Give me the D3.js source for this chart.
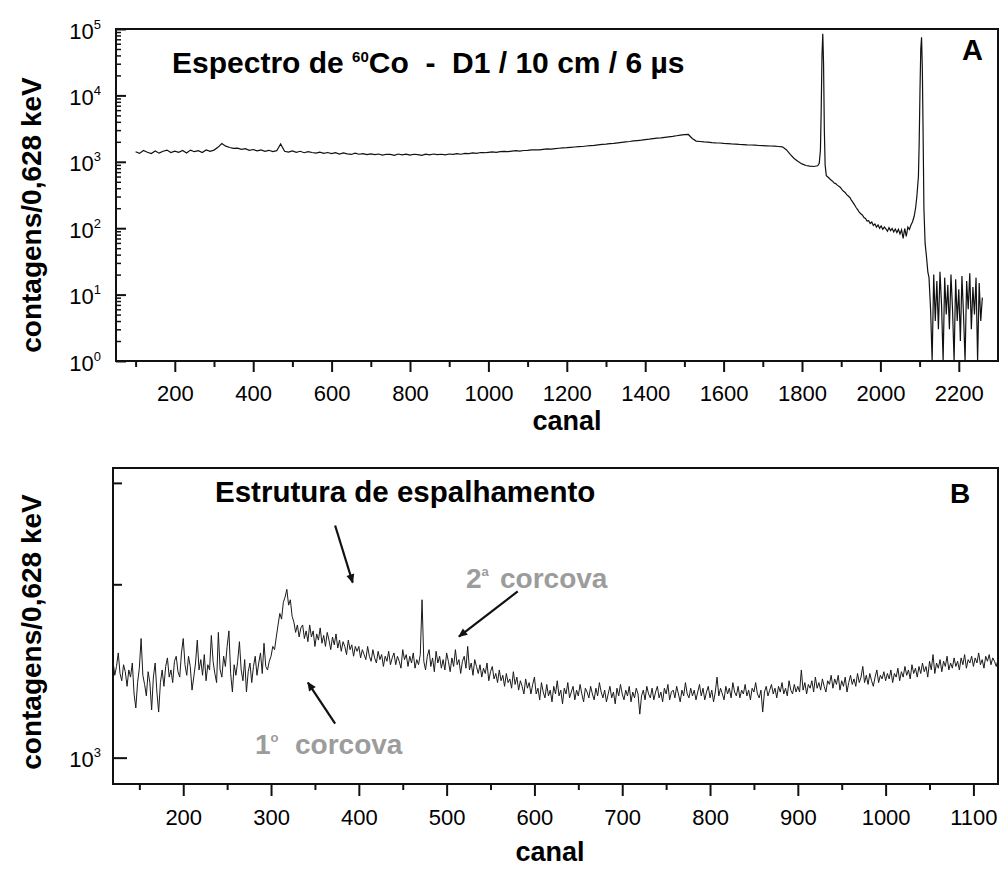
<!DOCTYPE html>
<html>
<head>
<meta charset="utf-8">
<script src="https://cdn.jsdelivr.net/npm/d3@7"></script>
<style>
  body { margin: 0; background: #fff; }
  svg { display: block; font-family: "Liberation Sans", Arial, Helvetica, sans-serif; }
</style>
</head>
<body>
<svg id="chart" width="1000" height="872"></svg>
<script>
// ---- panel A : 60Co spectrum (counts per 0,628 keV, log axis) ----
// continuum, channels 100..1840 every 10
const cntA1 = [
  1420, 1340, 1480, 1390, 1330, 1460, 1350, 1440, 1500, 1380,
  1450, 1390, 1480, 1360, 1500, 1420, 1470, 1380, 1510, 1440,
  1500, 1650, 1880, 1720, 1640, 1590, 1610, 1540, 1580, 1490,
  1530, 1460, 1510, 1440, 1490, 1420, 1470, 1860, 1440, 1400,
  1460, 1390, 1440, 1370, 1420, 1380, 1350, 1400, 1340, 1380,
  1330, 1370, 1310, 1360, 1320, 1290, 1350, 1300, 1330, 1280,
  1320, 1280, 1310, 1260, 1300, 1290, 1250, 1310, 1270, 1300,
  1260, 1300, 1280, 1250, 1300, 1270, 1310, 1280, 1300, 1270,
  1310, 1290, 1330, 1300, 1340, 1330, 1360, 1340, 1380, 1370,
  1390, 1410, 1390, 1420, 1440, 1420, 1450, 1470, 1450, 1480,
  1490, 1510, 1520, 1510, 1540, 1570, 1550, 1580, 1600, 1620,
  1630, 1650, 1670, 1690, 1700, 1730, 1750, 1770, 1800, 1830,
  1850, 1880, 1900, 1930, 1960, 1990, 2020, 2060, 2090, 2120,
  2160, 2190, 2230, 2270, 2300, 2340, 2380, 2420, 2470, 2520,
  2560, 2580, 2250, 2050, 2020, 1990, 1980, 1950, 1930, 1920,
  1890, 1880, 1860, 1850, 1830, 1820, 1800, 1790, 1780, 1760,
  1750, 1740, 1730, 1720, 1700, 1680, 1520, 1290, 1120, 1010,
  930, 880, 860, 850, 870
];
// photopeaks 1173 / 1332 keV and the region between them
const chanA2 = [
  1844, 1847, 1849, 1851, 1853, 1855, 1857, 1859, 1862, 1866,
  1870, 1874, 1878, 1882, 1886, 1890, 1894, 1898, 1902, 1906,
  1910, 1914, 1918, 1922, 1926, 1930, 1934, 1938, 1942, 1946,
  1950, 1954, 1958, 1962, 1966, 1970, 1974, 1978, 1982, 1986,
  1990, 1994, 1998, 2002, 2006, 2010, 2014, 2018, 2022, 2026,
  2030, 2034, 2038, 2042, 2046, 2050, 2054, 2058, 2062, 2066,
  2070, 2074, 2078, 2082, 2086, 2090, 2093, 2097, 2099, 2101,
  2103, 2105, 2107, 2109, 2111, 2114, 2118, 2121
];
const cntA2 = [
  950, 1500, 6000, 40000, 85000, 30000, 3000, 900, 620, 590,
  560, 530, 510, 480, 470, 445, 430, 410, 380, 360,
  345, 320, 305, 290, 265, 245, 225, 205, 190, 175,
  165, 158, 145, 140, 128, 130, 118, 124, 110, 116,
  104, 112, 100, 108, 96, 104, 98, 90, 102, 92,
  99, 88, 97, 86, 96, 82, 95, 70, 99, 75,
  104, 96, 112, 125, 150, 205, 300, 600, 2000, 12000,
  50000, 75000, 25000, 2500, 200, 60, 35, 22
];
// tail above the 1332 keV peak, channels 2124..2260 every 4
const cntA3 = [
  18, 6, 1, 20, 4, 16, 3, 22, 7, 1,
  18, 5, 14, 3, 20, 6, 1, 17, 4, 12,
  2, 19, 5, 1, 16, 6, 21, 3, 13, 5,
  18, 1, 15, 4, 9
];

// ---- panel B : low-channel region, channels 120..1128 every 2 ----
const cntB = [
  1470, 1390, 1440, 1520, 1400, 1360, 1450, 1410, 1330, 1420,
  1380, 1460, 1290, 1220, 1350, 1430, 1610, 1390, 1340, 1280,
  1410, 1350, 1210, 1380, 1460, 1300, 1200, 1350, 1420, 1330,
  1440, 1490, 1380, 1420, 1350, 1470, 1500, 1410, 1380, 1520,
  1610, 1450, 1390, 1500, 1440, 1310, 1380, 1460, 1600, 1420,
  1480, 1390, 1510, 1360, 1450, 1420, 1630, 1470, 1400, 1350,
  1650, 1420, 1380, 1500, 1440, 1560, 1660, 1400, 1300, 1450,
  1390, 1470, 1590, 1420, 1360, 1480, 1300, 1410, 1460, 1350,
  1440, 1500, 1390, 1460, 1520, 1400, 1580, 1440, 1420, 1470,
  1500, 1560, 1540, 1620, 1700, 1780, 1740, 1860, 1900, 1960,
  1840, 1880, 1760, 1720, 1650, 1700, 1620, 1680, 1700, 1610,
  1660, 1590, 1700, 1620, 1660, 1560, 1640, 1600, 1680, 1580,
  1630, 1560, 1650, 1600, 1540, 1620, 1570, 1640, 1550, 1600,
  1530, 1590, 1560, 1510, 1600, 1540, 1570, 1500, 1560, 1530,
  1560, 1490, 1540, 1510, 1480, 1560, 1500, 1470, 1540, 1490,
  1460, 1530, 1480, 1510, 1440, 1500, 1470, 1530, 1450, 1490,
  1520, 1450, 1500, 1470, 1430, 1540, 1480, 1510, 1440, 1500,
  1460, 1520, 1430, 1480, 1450, 1510, 1880, 1470, 1420, 1500,
  1540, 1440, 1490, 1410, 1530, 1460, 1500, 1430, 1480, 1420,
  1520, 1470, 1410, 1490, 1440, 1540, 1450, 1480, 1400, 1470,
  1500, 1430, 1560, 1420, 1460, 1390, 1480, 1440, 1400, 1450,
  1380, 1430, 1400, 1460, 1360, 1410, 1440, 1370, 1400, 1350,
  1420, 1360, 1390, 1330, 1400, 1350, 1370, 1320, 1410, 1340,
  1380, 1310, 1360, 1330, 1290, 1370, 1320, 1350, 1290, 1340,
  1380, 1290, 1320, 1260, 1350, 1300, 1270, 1340, 1280, 1310,
  1250, 1330, 1290, 1360, 1280, 1310, 1240, 1320, 1290, 1350,
  1270, 1300, 1330, 1260, 1310, 1280, 1340, 1290, 1250, 1320,
  1300, 1270, 1330, 1290, 1260, 1320, 1280, 1350, 1300, 1270,
  1310, 1250, 1290, 1330, 1270, 1300, 1240, 1320, 1280, 1340,
  1290, 1260, 1310, 1280, 1330, 1250, 1300, 1270, 1320, 1290,
  1190, 1280, 1310, 1260, 1330, 1290, 1270, 1320, 1260, 1300,
  1330, 1270, 1300, 1250, 1320, 1290, 1340, 1260, 1300, 1310,
  1270, 1330, 1290, 1250, 1310, 1280, 1350, 1290, 1270, 1320,
  1280, 1310, 1260, 1300, 1340, 1280, 1320, 1260, 1300, 1330,
  1270, 1310, 1250, 1300, 1380, 1280, 1320, 1290, 1260, 1330,
  1290, 1320, 1270, 1350, 1300, 1280, 1330, 1270, 1310, 1290,
  1340, 1280, 1310, 1260, 1320, 1300, 1350, 1290, 1270, 1310,
  1200, 1300, 1330, 1280, 1310, 1340, 1290, 1320, 1270, 1330,
  1300, 1350, 1290, 1320, 1280, 1360, 1310, 1290, 1340, 1300,
  1330, 1300, 1420, 1310, 1350, 1290, 1340, 1320, 1360, 1300,
  1380, 1320, 1350, 1310, 1370, 1330, 1300, 1360, 1340, 1390,
  1320, 1370, 1340, 1390, 1310, 1360, 1330, 1380, 1300, 1350,
  1390, 1340, 1370, 1330, 1400, 1350, 1380, 1440, 1350, 1390,
  1340, 1400, 1360, 1330, 1380, 1420, 1350, 1390, 1370, 1410,
  1360, 1400, 1370, 1420, 1350, 1400, 1380, 1430, 1360, 1410,
  1380, 1440, 1390, 1420, 1370, 1450, 1400, 1430, 1380, 1440,
  1400, 1460, 1410, 1440, 1380, 1470, 1420, 1510, 1400, 1460,
  1430, 1480, 1410, 1470, 1440, 1500, 1420, 1460, 1430, 1490,
  1440, 1470, 1420, 1490, 1450, 1510, 1430, 1480, 1460, 1500,
  1440, 1490, 1460, 1520, 1450, 1480, 1430, 1500, 1470, 1510,
  1450, 1490, 1470, 1440, 1480
];

const ticksAx = [200, 400, 600, 800, 1000, 1200, 1400, 1600, 1800, 2000, 2200];
const minorAx = [100, 300, 500, 700, 900, 1100, 1300, 1500, 1700, 1900, 2100];
const decadesA = [1, 10, 100, 1000, 10000, 100000];
const ticksBx = [200, 300, 400, 500, 600, 700, 800, 900, 1000, 1100];
const minorBx = [150, 250, 350, 450, 550, 650, 750, 850, 950, 1050];
const ticksBy = [1000, 2000, 3000];

// build the point lists
const dataA = cntA1.map((v, i) => ({ ch: 100 + 10 * i, v: v }))
  .concat(chanA2.map((c, i) => ({ ch: c, v: cntA2[i] })))
  .concat(cntA3.map((v, i) => ({ ch: 2124 + 4 * i, v: v })));
const dataB = cntB.map((v, i) => ({ ch: 120 + 2 * i, v: v }));

const svg = d3.select("#chart");
const font = '"Liberation Sans", Arial, Helvetica, sans-serif';

// arrow head
svg.append("defs").append("marker")
  .attr("id", "arrow")
  .attr("viewBox", "0 0 10 10")
  .attr("refX", 9).attr("refY", 5)
  .attr("markerWidth", 11).attr("markerHeight", 9)
  .attr("markerUnits", "userSpaceOnUse")
  .attr("orient", "auto")
  .append("path").attr("d", "M0,0.5L10,5L0,9.5z").attr("fill", "#111");

function frame(box, id) {
  svg.append("clipPath").attr("id", id)
    .append("rect")
    .attr("x", box.left).attr("y", box.top)
    .attr("width", box.right - box.left).attr("height", box.bottom - box.top);
}

function yLabel(x, y) {
  svg.append("text")
    .attr("transform", "translate(" + x + "," + y + ") rotate(-90)")
    .attr("text-anchor", "middle")
    .attr("font-weight", "bold")
    .attr("font-size", 28)
    .text("contagens/0,628 keV");
}

function powLabel(x, y, exp) {
  const t = svg.append("text")
    .attr("x", x).attr("y", y)
    .attr("text-anchor", "end")
    .attr("font-size", 22)
    .text("10");
  t.append("tspan").attr("dy", -10).attr("font-size", 13).text(exp);
}

function styleAxis(g, size) {
  g.attr("font-family", font).attr("font-size", size);
  g.selectAll("line").attr("stroke", "#111").attr("stroke-width", 2);
  g.select(".domain").remove();
}

// ================= panel A =================
const boxA = { left: 116, right: 998, top: 29, bottom: 361 };
const xA = d3.scaleLinear().domain([50, 2300]).range([boxA.left, boxA.right]);
const yA = d3.scaleLog().domain([1, 1e5]).range([boxA.bottom, boxA.top]);
frame(boxA, "clipA");

svg.append("path")
  .datum(dataA)
  .attr("clip-path", "url(#clipA)")
  .attr("fill", "none")
  .attr("stroke", "#111")
  .attr("stroke-width", 1.2)
  .attr("d", d3.line().x(d => xA(d.ch)).y(d => yA(d.v)));

// x axis
const gAx = svg.append("g")
  .attr("transform", "translate(0," + boxA.bottom + ")")
  .call(d3.axisBottom(xA).tickValues(ticksAx).tickSize(11).tickPadding(13).tickFormat(d3.format("d")));
styleAxis(gAx, 22);
const gAxm = svg.append("g")
  .attr("transform", "translate(0," + boxA.bottom + ")")
  .call(d3.axisBottom(xA).tickValues(minorAx).tickSize(6).tickFormat(""));
styleAxis(gAxm, 22);

// y axis, ticks pointing inward
const minorAy = yA.ticks().filter(t => decadesA.indexOf(t) < 0);
const gAy = svg.append("g")
  .attr("transform", "translate(" + boxA.left + ",0)")
  .call(d3.axisLeft(yA).tickValues(decadesA).tickSize(-10).tickFormat(""));
styleAxis(gAy, 22);
const gAym = svg.append("g")
  .attr("transform", "translate(" + boxA.left + ",0)")
  .call(d3.axisLeft(yA).tickValues(minorAy).tickSize(-5).tickFormat(""));
styleAxis(gAym, 22);
gAym.selectAll("line").attr("stroke-width", 1.5);
decadesA.forEach((d, i) => powLabel(101, yA(d) + 9.5, i));

svg.append("rect")
  .attr("x", boxA.left).attr("y", boxA.top)
  .attr("width", boxA.right - boxA.left).attr("height", boxA.bottom - boxA.top)
  .attr("fill", "none").attr("stroke", "#111").attr("stroke-width", 2);

yLabel(41, 215);
svg.append("text")
  .attr("x", 567).attr("y", 430)
  .attr("text-anchor", "middle")
  .attr("font-weight", "bold").attr("font-size", 27)
  .text("canal");

const title = svg.append("text")
  .attr("x", 172).attr("y", 73)
  .attr("font-weight", "bold").attr("font-size", 30)
  .style("white-space", "pre")
  .text("Espectro de ");
title.append("tspan").attr("dy", -11).attr("font-size", 15).text("60");
title.append("tspan").attr("dy", 11).text("Co  -  D1 / 10 cm / 6 \u00b5s");

svg.append("text")
  .attr("x", 962).attr("y", 60)
  .attr("font-weight", "bold").attr("font-size", 29)
  .text("A");

// ================= panel B =================
const boxB = { left: 113, right: 998, top: 468, bottom: 784 };
const xB = d3.scaleLinear().domain([120, 1128]).range([boxB.left, boxB.right]);
const yB = d3.scaleLog().domain([900, 3184]).range([boxB.bottom, boxB.top]);
frame(boxB, "clipB");

svg.append("path")
  .datum(dataB)
  .attr("clip-path", "url(#clipB)")
  .attr("fill", "none")
  .attr("stroke", "#1a1a1a")
  .attr("stroke-width", 1)
  .attr("d", d3.line().x(d => xB(d.ch)).y(d => yB(d.v)));

const gBx = svg.append("g")
  .attr("transform", "translate(0," + boxB.bottom + ")")
  .call(d3.axisBottom(xB).tickValues(ticksBx).tickSize(12).tickPadding(13).tickFormat(d3.format("d")));
styleAxis(gBx, 22);
const gBxm = svg.append("g")
  .attr("transform", "translate(0," + boxB.bottom + ")")
  .call(d3.axisBottom(xB).tickValues(minorBx).tickSize(6).tickFormat(""));
styleAxis(gBxm, 22);

const gBy = svg.append("g")
  .attr("transform", "translate(" + boxB.left + ",0)")
  .call(d3.axisLeft(yB).tickValues(ticksBy).tickSize(-9).tickFormat(""));
styleAxis(gBy, 22);
gBy.selectAll("line").filter(d => d === 1000).attr("x2", 14);
powLabel(101, yB(1000) + 9.5, 3);

svg.append("rect")
  .attr("x", boxB.left).attr("y", boxB.top)
  .attr("width", boxB.right - boxB.left).attr("height", boxB.bottom - boxB.top)
  .attr("fill", "none").attr("stroke", "#111").attr("stroke-width", 2);

yLabel(41, 632);
svg.append("text")
  .attr("x", 550).attr("y", 861)
  .attr("text-anchor", "middle")
  .attr("font-weight", "bold").attr("font-size", 27)
  .text("canal");

svg.append("text")
  .attr("x", 950).attr("y", 503)
  .attr("font-weight", "bold").attr("font-size", 28)
  .text("B");

svg.append("text")
  .attr("x", 215).attr("y", 502)
  .attr("font-weight", "bold").attr("font-size", 29.5)
  .text("Estrutura de espalhamento");

// gray hump labels
function hump(x, y, num, sup, xWord) {
  const t = svg.append("text")
    .attr("x", x).attr("y", y)
    .attr("font-weight", "bold").attr("font-size", 28)
    .attr("fill", "#9c9c9c")
    .text(num);
  t.append("tspan").attr("dy", -12).attr("font-size", 13).text(sup);
  t.append("tspan").attr("x", xWord).attr("dy", 12).text("corcova");
}
hump(255, 754, "1", "o", 295);
hump(466, 588, "2", "a", 500);

// arrows (start / end in data coordinates of panel B)
const arrows = [
  { c0: 373, v0: 2530, c1: 393, v1: 2014 },
  { c0: 581, v0: 1944, c1: 514, v1: 1623 },
  { c0: 373, v0: 1146, c1: 342, v1: 1350 }
];
svg.selectAll(".arrow")
  .data(arrows)
  .enter().append("line")
  .attr("class", "arrow")
  .attr("x1", d => xB(d.c0)).attr("y1", d => yB(d.v0))
  .attr("x2", d => xB(d.c1)).attr("y2", d => yB(d.v1))
  .attr("stroke", "#111")
  .attr("stroke-width", 2.2)
  .attr("marker-end", "url(#arrow)");
</script>
</body>
</html>
